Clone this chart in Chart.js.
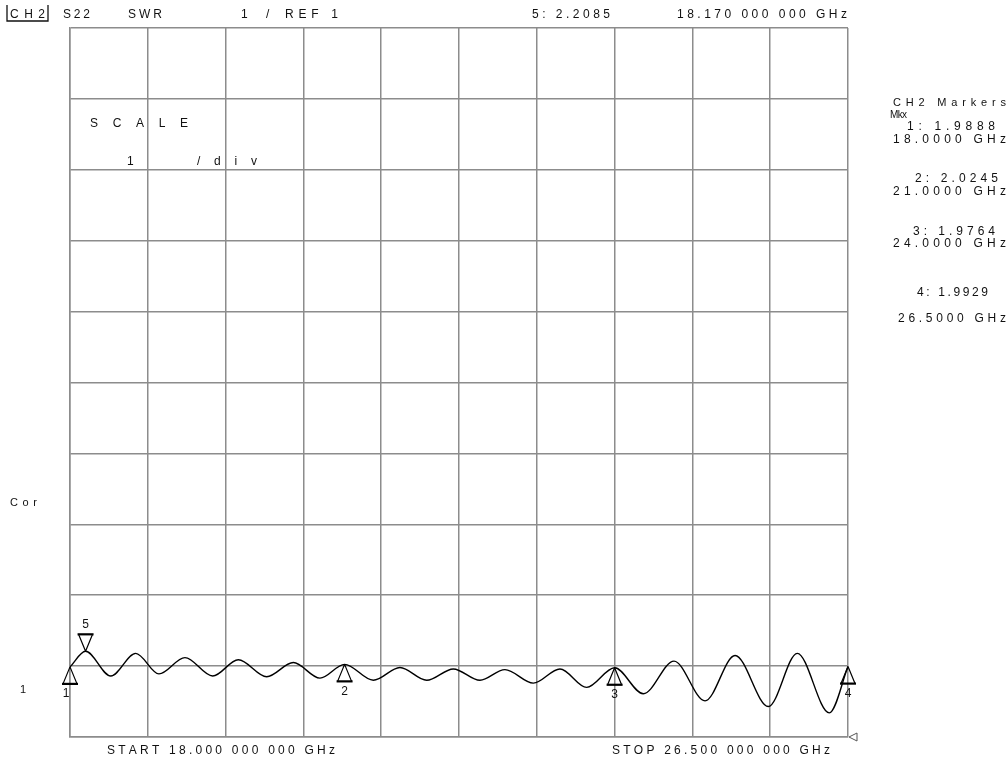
<!DOCTYPE html>
<html>
<head>
<meta charset="utf-8">
<title>CH2 S22 SWR</title>
<script src="https://cdn.jsdelivr.net/npm/chart.js@4.4.1/dist/chart.umd.min.js"></script>
<style>
  html, body { margin: 0; padding: 0; background: #fff; }
  canvas { display: block; }
</style>
</head>
<body>
<canvas id="swr_chart" width="1008" height="759"></canvas>
<script>
// frequency (GHz) of each traced turning point
var freqs = [18.0, 18.17, 18.445, 18.718, 18.972, 19.256, 19.559, 19.839, 20.149, 20.44,
  20.731, 21.0, 21.314, 21.605, 21.897, 22.188, 22.479, 22.752, 23.062, 23.353,
  23.645, 23.95, 24.264, 24.599, 24.938, 25.266, 25.63, 25.946, 26.296, 26.5];
// SWR
var swr = [1.9888, 2.2085, 1.86, 2.18, 1.89, 2.12, 1.86, 2.09, 1.85, 2.05,
  1.83, 2.0245, 1.80, 1.98, 1.80, 1.96, 1.80, 1.95, 1.76, 1.96,
  1.70, 1.9764, 1.61, 2.07, 1.51, 2.15, 1.43, 2.18, 1.34, 1.9929];

// markers 1..5
var markerNames = ["1", "2", "3", "4", "5"];
var markerFreqs = [18.0, 21.0, 23.95, 26.5, 18.17];
var markerVals = [1.9888, 2.0245, 1.9764, 1.9929, 2.2085];

// grid divisions: 10 x 10, 0.85 GHz/div, 1 /div
var xGrid = [18, 18.85, 19.7, 20.55, 21.4, 22.25, 23.1, 23.95, 24.8, 25.65, 26.5];
var yGrid = [1, 2, 3, 4, 5, 6, 7, 8, 9, 10, 11];

var FONT = "'Liberation Sans', Arial, sans-serif";

// draw text stretched between x0 and x1 by letter spacing (instrument style)
function spaced(ctx, str, x0, x1, y, size) {
  ctx.font = (size || 12) + "px " + FONT;
  var chars = str.split("");
  if (chars.length === 1 || x1 == null) {
    ctx.textAlign = "left";
    ctx.fillText(str, x0, y);
    return;
  }
  var natural = 0;
  chars.forEach(function (c) { natural += ctx.measureText(c).width; });
  var gap = (x1 - x0 - natural) / (chars.length - 1);
  var x = x0;
  ctx.textAlign = "left";
  chars.forEach(function (c) {
    ctx.fillText(c, x, y);
    x += ctx.measureText(c).width + gap;
  });
}

var screenText = {
  id: "screenText",
  afterDraw: function (chart) {
    var ctx = chart.ctx;
    ctx.save();
    ctx.fillStyle = "#111";
    ctx.textBaseline = "middle";

    // header
    spaced(ctx, "CH2", 10, 45, 15);
    ctx.strokeStyle = "#111";
    ctx.lineWidth = 1.3;
    ctx.beginPath();
    ctx.moveTo(7, 5); ctx.lineTo(7, 21); ctx.lineTo(48, 21); ctx.lineTo(48, 5);
    ctx.stroke();
    spaced(ctx, "S22", 63, 90, 15);
    spaced(ctx, "SWR", 128, 162, 15);
    spaced(ctx, "1", 241, null, 15);
    spaced(ctx, "/", 266, null, 15);
    spaced(ctx, "REF 1", 285, 338, 15);
    spaced(ctx, "5: 2.2085", 532, 610, 15);
    spaced(ctx, "18.170 000 000 GHz", 677, 847, 15);

    // scale block
    spaced(ctx, "SCALE", 90, 188, 124);
    spaced(ctx, "1", 127, null, 162);
    spaced(ctx, "/div", 197, 257, 162);

    // left side
    spaced(ctx, "Cor", 10, 37, 503, 11);
    spaced(ctx, "1", 20, null, 690, 11);

    // footer
    spaced(ctx, "START 18.000 000 000 GHz", 107, 335, 751);
    spaced(ctx, "STOP 26.500 000 000 GHz", 612, 830, 751);

    // marker list
    spaced(ctx, "CH2 Markers", 893, 1006, 103, 11);
    spaced(ctx, "Mkx", 890, 907, 115, 10);
    spaced(ctx, "1: 1.9888", 907, 995, 127);
    spaced(ctx, "18.0000 GHz", 893, 1006, 140);
    spaced(ctx, "2: 2.0245", 915, 998, 179);
    spaced(ctx, "21.0000 GHz", 893, 1006, 192);
    spaced(ctx, "3: 1.9764", 913, 995, 232);
    spaced(ctx, "24.0000 GHz", 893, 1006, 244);
    spaced(ctx, "4: 1.9929", 917, 988, 293);
    spaced(ctx, "26.5000 GHz", 898, 1006, 319);

    // markers on the trace
    var xs = chart.scales.x, ys = chart.scales.y;
    ctx.strokeStyle = "#000";
    ctx.font = "12px " + FONT;
    ctx.textAlign = "center";
    markerFreqs.forEach(function (f, i) {
      var px = xs.getPixelForValue(f);
      var py = ys.getPixelForValue(markerVals[i]);
      var up = markerNames[i] !== "5";
      var dir = up ? 1 : -1;
      var baseY = py + dir * 17;
      ctx.lineWidth = 1.2;
      ctx.beginPath();
      ctx.moveTo(px, py);
      ctx.lineTo(px - 7, baseY);
      ctx.moveTo(px, py);
      ctx.lineTo(px + 7, baseY);
      ctx.stroke();
      ctx.lineWidth = 2.2;
      ctx.beginPath();
      ctx.moveTo(px - 8, baseY);
      ctx.lineTo(px + 8, baseY);
      ctx.stroke();
      ctx.fillText(markerNames[i], px - (i === 0 ? 4 : 0), py + dir * 27);
    });

    // reference pointer, bottom right
    var rx = chart.chartArea.right, ry = chart.chartArea.bottom;
    ctx.lineWidth = 1;
    ctx.strokeStyle = "#555";
    ctx.beginPath();
    ctx.moveTo(rx + 1, ry);
    ctx.lineTo(rx + 9, ry - 4);
    ctx.lineTo(rx + 9, ry + 4);
    ctx.closePath();
    ctx.stroke();
    ctx.restore();
  },
};

function getswrchart() {
  new Chart(document.getElementById("swr_chart"), {
    type: "line",
    data: {
      datasets: [
        {
          label: "S22 SWR",
          data: freqs.map(function (f, i) { return { x: f, y: swr[i] }; }),
          borderColor: "#000",
          borderWidth: 1.4,
          pointRadius: 0,
          fill: false,
          cubicInterpolationMode: "monotone",
        },
      ],
    },
    options: {
      responsive: false,
      animation: false,
      layout: { padding: { left: 70, right: 160, top: 28, bottom: 22 } },
      plugins: {
        legend: { display: false },
        tooltip: { enabled: false },
      },
      scales: {
        x: {
          type: "linear",
          min: 18,
          max: 26.5,
          afterBuildTicks: function (scale) {
            scale.ticks = xGrid.map(function (v) { return { value: v }; });
          },
          afterFit: function (scale) { scale.height = 0; },
          ticks: { display: false },
          grid: { color: "#8c8c8c", lineWidth: 1.5, drawTicks: false },
          border: { display: true, color: "#8c8c8c", width: 1.5 },
        },
        y: {
          type: "linear",
          min: 1,
          max: 11,
          afterBuildTicks: function (scale) {
            scale.ticks = yGrid.map(function (v) { return { value: v }; });
          },
          afterFit: function (scale) { scale.width = 0; },
          ticks: { display: false },
          grid: { color: "#8c8c8c", lineWidth: 1.5, drawTicks: false },
          border: { display: true, color: "#8c8c8c", width: 1.5 },
        },
      },
    },
    plugins: [screenText],
  });
}

getswrchart();
</script>
</body>
</html>
